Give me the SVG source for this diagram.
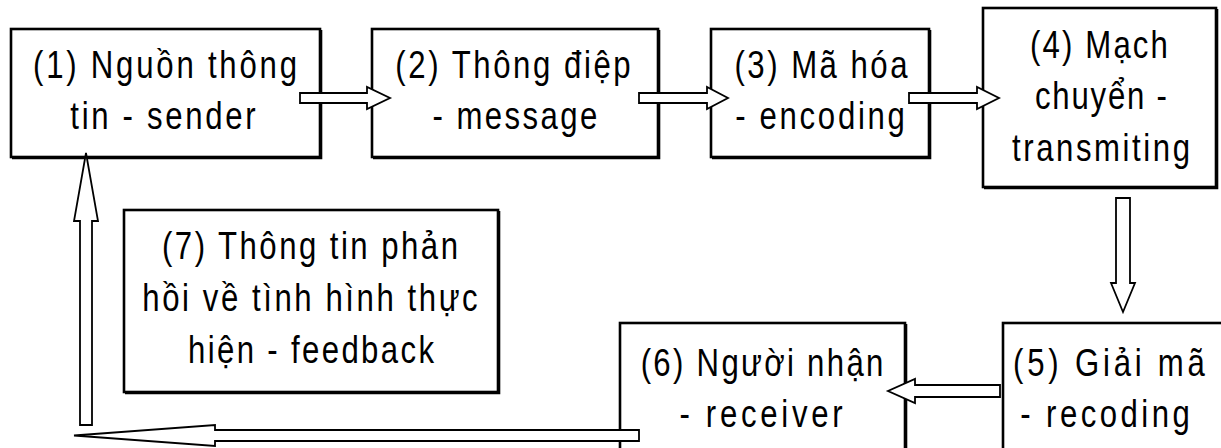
<svg xmlns="http://www.w3.org/2000/svg" width="1221" height="448" viewBox="0 0 1221 448">
<style>
.box{fill:#fff;stroke:#000;stroke-width:2.6}
.sh{fill:none;stroke:#000;stroke-width:1.6}
.t{font-family:"Liberation Sans",Arial,sans-serif;font-size:38px;fill:#000;text-anchor:middle}
.ar{fill:#fff;stroke:#000;stroke-width:1.8;stroke-linejoin:miter}
</style>
<rect width="1221" height="448" fill="#fff"/>
<g id="n1">
<rect class="box" x="11" y="29" width="309" height="128"/>
<path class="sh" d="M321.5 30 V158.5 H12"/>
<text class="t" transform="translate(165 78) scale(0.82 1)" textLength="322">(1) Nguồn thông</text>
<text class="t" transform="translate(163 129) scale(0.82 1)" textLength="226">tin - sender</text>
</g>
<g id="n2">
<rect class="box" x="372" y="29" width="286" height="128"/>
<path class="sh" d="M659.5 30 V158.5 H373"/>
<text class="t" transform="translate(513 78) scale(0.82 1)" textLength="287">(2) Thông điệp</text>
<text class="t" transform="translate(515 129) scale(0.82 1)" textLength="201">- message</text>
</g>
<g id="n3">
<rect class="box" x="711" y="29" width="218" height="128"/>
<path class="sh" d="M930.5 30 V158.5 H712"/>
<text class="t" transform="translate(821 78) scale(0.82 1)" textLength="211">(3) Mã hóa</text>
<text class="t" transform="translate(820 129) scale(0.82 1)" textLength="207">- encoding</text>
</g>
<g id="n4">
<rect class="box" x="983" y="8" width="233" height="179"/>
<path class="sh" d="M1217.5 9 V188.5 H984"/>
<text class="t" transform="translate(1099 58) scale(0.82 1)" textLength="168">(4) Mạch</text>
<text class="t" transform="translate(1101 109) scale(0.82 1)" textLength="161">chuyển -</text>
<text class="t" transform="translate(1101 161) scale(0.82 1)" textLength="217">transmiting</text>
</g>
<g id="n5">
<rect class="box" x="1003" y="323" width="230" height="140"/>
<text class="t" transform="translate(1109 376) scale(0.82 1)" textLength="234">(5) Giải mã</text>
<text class="t" transform="translate(1105 427) scale(0.82 1)" textLength="207">- recoding</text>
</g>
<g id="n6">
<rect class="box" x="620" y="323" width="285" height="140"/>
<path class="sh" d="M906.5 324 V460"/>
<text class="t" transform="translate(762 376) scale(0.82 1)" textLength="296">(6) Người nhận</text>
<text class="t" transform="translate(761 427) scale(0.82 1)" textLength="199">- receiver</text>
</g>
<g id="n7">
<rect class="box" x="124" y="210" width="374" height="182"/>
<path class="sh" d="M499.5 211 V393.5 H125"/>
<text class="t" transform="translate(310 259) scale(0.82 1)" textLength="361">(7) Thông tin phản</text>
<text class="t" transform="translate(310 311) scale(0.82 1)" textLength="409">hồi về tình hình thực</text>
<text class="t" transform="translate(311 363) scale(0.82 1)" textLength="300">hiện - feedback</text>
</g>
<g id="connectors">
<polygon class="ar" points="300,93 367,93 367,87 390,98 367,109 367,103 300,103"/>
<polygon class="ar" points="639,93 707,93 707,87 728,98 707,109 707,103 639,103"/>
<polygon class="ar" points="909,93 977,93 977,87 999,98 977,109 977,103 909,103"/>
<polygon class="ar" points="1116,198 1130,198 1130,283 1135,283 1123,312 1111,283 1116,283"/>
<polygon class="ar" points="1000,385 915,385 915,379 888,391 915,403 915,397 1000,397"/>
<polygon class="ar" points="639,430 215,430 215,425 74,435.5 215,446 215,441 639,441"/>
<polygon class="ar" points="80,425 80,221 74,221 86,153 98,221 92,221 92,425"/>
</g>
</svg>
